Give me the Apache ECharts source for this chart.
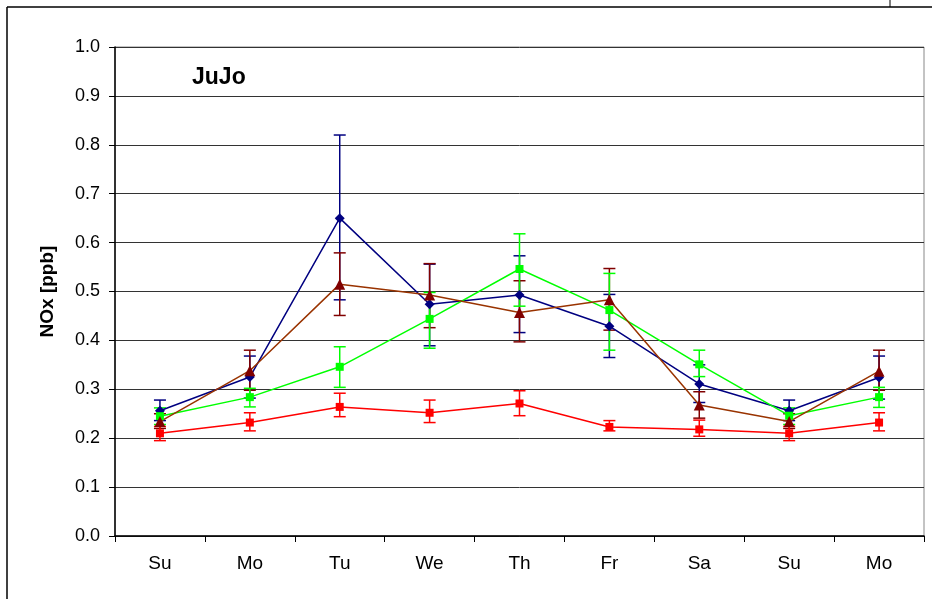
<!DOCTYPE html>
<html>
<head>
<meta charset="utf-8">
<script src="https://cdn.jsdelivr.net/npm/echarts@6/dist/echarts.min.js"></script>
<style>
  html, body { margin: 0; padding: 0; background: #fff; }
  #chart { width: 932px; height: 599px; }
</style>
</head>
<body>
<div id="chart"></div>
<script>
  // categories
  var days = ['Su', 'Mo', 'Tu', 'We', 'Th', 'Fr', 'Sa', 'Su', 'Mo'];
  var yTicks = [0, 0.1, 0.2, 0.3, 0.4, 0.5, 0.6, 0.7, 0.8, 0.9, 1.0];

  // dark blue (diamond)
  var blueVals = [0.256, 0.325, 0.650, 0.474, 0.493, 0.429, 0.311, 0.256, 0.324];
  var blueLow  = [0.236, 0.282, 0.483, 0.389, 0.416, 0.365, 0.273, 0.236, 0.280];
  var blueHigh = [0.278, 0.368, 0.820, 0.556, 0.573, 0.494, 0.350, 0.278, 0.368];

  // brown (triangle)
  var brownVals = [0.234, 0.338, 0.515, 0.493, 0.457, 0.483, 0.268, 0.234, 0.337];
  var brownLow  = [0.220, 0.298, 0.451, 0.426, 0.397, 0.421, 0.241, 0.220, 0.298];
  var brownHigh = [0.250, 0.380, 0.579, 0.557, 0.522, 0.547, 0.295, 0.250, 0.380];

  // green (square)
  var greenVals = [0.245, 0.284, 0.346, 0.444, 0.546, 0.462, 0.351, 0.246, 0.284];
  var greenLow  = [0.228, 0.264, 0.304, 0.384, 0.470, 0.380, 0.326, 0.228, 0.263];
  var greenHigh = [0.262, 0.302, 0.387, 0.498, 0.618, 0.537, 0.380, 0.262, 0.304];

  // red (square)
  var redVals = [0.210, 0.232, 0.264, 0.252, 0.271, 0.223, 0.218, 0.210, 0.232];
  var redLow  = [0.195, 0.215, 0.244, 0.232, 0.246, 0.215, 0.204, 0.195, 0.215];
  var redHigh = [0.224, 0.252, 0.292, 0.278, 0.297, 0.236, 0.237, 0.224, 0.252];

  function errData(low, high) {
    return days.map(function (d, i) { return [i, low[i], high[i]]; });
  }

  // error bars drawn through the axis scales
  function errBars(color) {
    return function (params, api) {
      var x = api.value(0);
      var lo = api.coord([x, api.value(1)]);
      var hi = api.coord([x, api.value(2)]);
      var w = 6;
      var st = { stroke: color, lineWidth: 1.5 };
      return {
        type: 'group',
        children: [
          { type: 'line', shape: { x1: lo[0], y1: lo[1], x2: hi[0], y2: hi[1] }, style: st },
          { type: 'line', shape: { x1: lo[0] - w, y1: lo[1], x2: lo[0] + w, y2: lo[1] }, style: st },
          { type: 'line', shape: { x1: hi[0] - w, y1: hi[1], x2: hi[0] + w, y2: hi[1] }, style: st }
        ]
      };
    };
  }

  function lineSeries(name, vals, lineColor, markColor, symbol, size) {
    return {
      name: name,
      type: 'line',
      data: vals,
      symbol: symbol,
      symbolSize: size,
      z: 5,
      lineStyle: { color: lineColor, width: 1.5 },
      itemStyle: { color: markColor },
      emphasis: { disabled: true }
    };
  }

  function errSeries(name, low, high, color) {
    return {
      name: name,
      type: 'custom',
      renderItem: errBars(color),
      data: errData(low, high),
      z: 3,
      silent: true
    };
  }

  var myChart = echarts.init(document.getElementById('chart'));
  var option = {
    backgroundColor: '#fff',
    animation: false,
    textStyle: { fontFamily: 'Liberation Sans, Arial, sans-serif' },
    title: {
      text: 'JuJo',
      left: 187,
      top: 61,
      textStyle: { fontSize: 23, fontWeight: 'bold', color: '#000', fontFamily: 'Liberation Sans, Arial, sans-serif' }
    },
    grid: {
      left: 115, right: 8, top: 47, bottom: 63,
      show: true, borderColor: '#888', borderWidth: 1
    },
    graphic: [
      { type: 'line', shape: { x1: 7, y1: 7, x2: 932, y2: 7 }, style: { stroke: '#000', lineWidth: 1.5 } },
      { type: 'line', shape: { x1: 7, y1: 7, x2: 7, y2: 599 }, style: { stroke: '#000', lineWidth: 1.5 } },
      { type: 'line', shape: { x1: 890, y1: 0, x2: 890, y2: 7 }, style: { stroke: '#000', lineWidth: 1 } }
    ],
    xAxis: {
      type: 'category',
      data: days,
      boundaryGap: true,
      axisLine: { lineStyle: { color: '#000', width: 1.5 } },
      axisTick: { show: true, length: 6, lineStyle: { color: '#000' } },
      axisLabel: { color: '#000', fontSize: 19, margin: 18 },
      splitLine: { show: false }
    },
    yAxis: {
      type: 'value',
      min: yTicks[0],
      max: yTicks[yTicks.length - 1],
      interval: 0.1,
      name: 'NOx [ppb]',
      nameLocation: 'middle',
      nameGap: 58,
      nameTextStyle: { fontSize: 19, fontWeight: 'bold', color: '#000' },
      axisLine: { show: true, lineStyle: { color: '#000', width: 1.5 } },
      axisTick: { show: true, length: 6, lineStyle: { color: '#000' } },
      axisLabel: {
        color: '#000', fontSize: 18, margin: 15,
        formatter: function (v) { return v.toFixed(1); }
      },
      splitLine: { show: true, lineStyle: { color: '#333', width: 1 } }
    },
    series: [
      errSeries('blueErr', blueLow, blueHigh, '#000080'),
      errSeries('brownErr', brownLow, brownHigh, '#800000'),
      errSeries('greenErr', greenLow, greenHigh, '#00ff00'),
      errSeries('redErr', redLow, redHigh, '#ff0000'),
      lineSeries('blue', blueVals, '#000080', '#000080', 'diamond', 10),
      lineSeries('green', greenVals, '#00ff00', '#00ff00', 'rect', 8),
      lineSeries('brown', brownVals, '#993300', '#800000', 'triangle', 11),
      lineSeries('red', redVals, '#ff0000', '#ff0000', 'rect', 8)
    ]
  };
  myChart.setOption(option);
</script>
</body>
</html>
